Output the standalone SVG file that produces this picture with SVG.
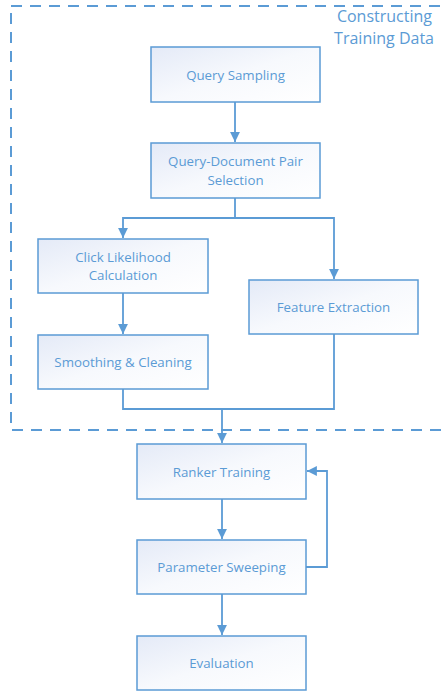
<svg xmlns="http://www.w3.org/2000/svg" width="443" height="692" viewBox="0 0 443 692">
<style>
.box{fill:url(#g);stroke:#5b9bd5;stroke-width:1.5}
.t{font-family:"Open Sans","Liberation Sans",sans-serif;font-size:13.3px;fill:#5b9bd5;text-anchor:middle}
.c{fill:none;stroke:#5b9bd5;stroke-width:1.8}
.title{font-family:"Open Sans","Liberation Sans",sans-serif;font-size:16px;fill:#5b9bd5;text-anchor:end}
</style>
<defs>
<linearGradient id="g" x1="0" y1="0" x2="1" y2="1">
<stop offset="0" stop-color="#e4eaf7"/>
<stop offset="0.5" stop-color="#f7f9fd"/>
<stop offset="1" stop-color="#ffffff"/>
</linearGradient>
<marker id="a" viewBox="0 0 10 10" refX="10" refY="5" markerWidth="5.5" markerHeight="5.5" orient="auto" markerUnits="strokeWidth">
<path d="M0,0 L10,5 L0,10 z" fill="#5b9bd5"/>
</marker>
</defs>
<g id="group">
<rect x="11" y="6" width="440" height="424" fill="none" stroke="#5b9bd5" stroke-width="2" stroke-dasharray="11,8"/>
<text class="title" x="432" y="22">Constructing</text>
<text class="title" x="434" y="44">Training Data</text>
</g>
<g id="connectors">
<path class="c" d="M235,102 V142" marker-end="url(#a)"/>
<path class="c" d="M235,198 V218 H123 V238" marker-end="url(#a)"/>
<path class="c" d="M235,218 H334 V279" marker-end="url(#a)"/>
<path class="c" d="M123,293 V334" marker-end="url(#a)"/>
<path class="c" d="M123,389 V409 H334 V334"/>
<path class="c" d="M222,409 V443" marker-end="url(#a)"/>
<path class="c" d="M222,499 V539" marker-end="url(#a)"/>
<path class="c" d="M306,567 H327 V471 H307" marker-end="url(#a)"/>
<path class="c" d="M222,594 V635" marker-end="url(#a)"/>
</g>
<g id="query-sampling"><rect class="box" x="151" y="47" width="169" height="55"/><text class="t" x="235.5" y="80">Query Sampling</text></g>
<g id="pair-selection"><rect class="box" x="151" y="143" width="169" height="55"/><text class="t" x="235.5" y="166">Query-Document Pair</text><text class="t" x="235.5" y="185">Selection</text></g>
<g id="click-likelihood"><rect class="box" x="38" y="239" width="170" height="54"/><text class="t" x="123" y="262">Click Likelihood</text><text class="t" x="123" y="280">Calculation</text></g>
<g id="feature-extraction"><rect class="box" x="249" y="280" width="169" height="54"/><text class="t" x="333.5" y="312">Feature Extraction</text></g>
<g id="smoothing"><rect class="box" x="38" y="335" width="170" height="54"/><text class="t" x="123" y="367">Smoothing &amp; Cleaning</text></g>
<g id="ranker-training"><rect class="box" x="137" y="444" width="169" height="55"/><text class="t" x="221.5" y="477">Ranker Training</text></g>
<g id="parameter-sweeping"><rect class="box" x="137" y="540" width="169" height="54"/><text class="t" x="221.5" y="572">Parameter Sweeping</text></g>
<g id="evaluation"><rect class="box" x="137" y="636" width="169" height="54"/><text class="t" x="221.5" y="668">Evaluation</text></g>
</svg>
